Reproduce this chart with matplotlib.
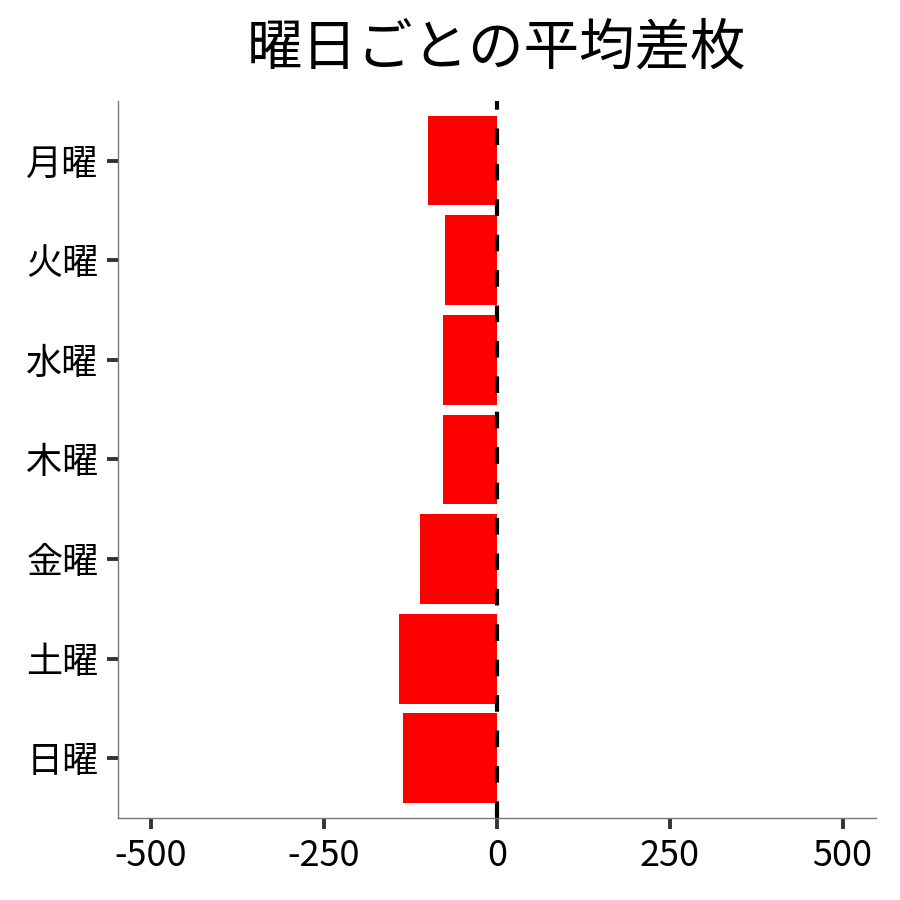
import matplotlib
matplotlib.use("Agg")
import matplotlib.pyplot as plt

plt.rcParams['font.family'] = ['Noto Sans CJK JP', 'DejaVu Sans']

# data
days = ['月曜', '火曜', '水曜', '木曜', '金曜', '土曜', '日曜']
avg_diff = [-100, -75, -78, -78, -111, -142, -136]
xticks = [-500, -250, 0, 250, 500]

fig = plt.figure(figsize=(9, 9), dpi=100)
ax = fig.add_axes([0.131, 0.091, 0.842, 0.797])

ypos = list(range(len(days)))[::-1]
ax.barh(ypos, avg_diff, height=0.9, color='#ff0000', zorder=2)
ax.axvline(0, color='black', lw=3.0, dashes=(4, 4.5), zorder=3)

ax.set_xlim(-548, 548)
ax.set_ylim(-0.6, len(days) - 0.4)
ax.set_yticks(ypos)
ax.set_yticklabels(days)
ax.set_xticks(xticks)
ax.set_xticklabels([str(v) for v in xticks])

for s in ['top', 'right']:
    ax.spines[s].set_visible(False)
for s in ['left', 'bottom']:
    ax.spines[s].set_color('#777777')
    ax.spines[s].set_linewidth(1.0)

ax.tick_params(axis='both', length=8, width=2.8, color='#333333',
               labelsize=26, labelcolor='black', pad=6)

ax.set_title('曜日ごとの平均差枚', fontsize=40, pad=26)

fig.savefig('out.png', dpi=100)
